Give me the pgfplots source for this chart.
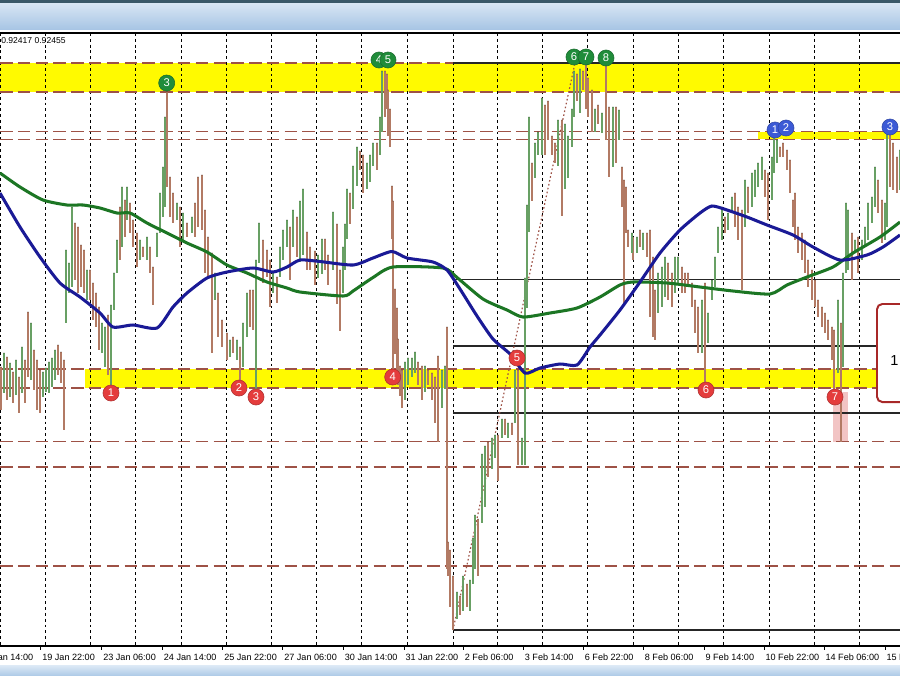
\documentclass[border=0pt]{standalone}
\usepackage{pgfplots}
\usepackage{pgfplotstable}
\pgfplotsset{compat=1.18}
\usepackage{fontspec}
\setmainfont{Liberation Sans}
\definecolor{candU}{RGB}{104,160,100}
\definecolor{candD}{RGB}{178,122,100}
\definecolor{maB}{RGB}{26,26,150}
\definecolor{maG}{RGB}{28,118,36}
\definecolor{lvl}{RGB}{158,82,70}
\definecolor{yel}{RGB}{255,250,0}
\definecolor{pinkz}{RGB}{242,196,196}
\definecolor{cGreen}{RGB}{32,140,58}
\definecolor{cRed}{RGB}{228,60,60}
\definecolor{cBlue}{RGB}{60,90,214}
\definecolor{hdrTop}{RGB}{216,230,244}
\definecolor{hdrBot}{RGB}{166,196,228}
\definecolor{hdrLine}{RGB}{58,88,104}
\definecolor{ftrTop}{RGB}{222,234,246}
\definecolor{ftrBot}{RGB}{176,204,232}
\definecolor{boxRed}{RGB}{168,40,40}

\pgfplotstableread{
x h l
4 353 393
10 363 397
16 360 395
22 347 393
31 323 380
43 372 397
46 368 392
49 362 393
52 358 387
55 350 380
66 250 323
69 263 293
72 207 287
87 270 300
102 323 353
105 327 367
111 305 386
114 273 310
117 240 273
122 187 247
127 187 220
140 240 260
147 237 260
157 233 257
160 193 233
163 167 217
165 117 207
177 203 220
183 213 240
192 217 233
215 273 300
230 340 357
237 340 360
243 323 367
247 293 337
256 260 390
259 223 263
273 273 293
280 247 277
283 230 260
287 220 247
293 210 247
300 201 262
303 189 255
318 255 278
322 239 274
333 212 270
343 247 293
345 224 270
347 189 239
353 166 209
357 147 186
367 163 189
370 155 182
373 143 166
380 117 155
382 71 132
405 362 400
408 358 385
412 358 377
415 352 373
425 366 392
442 370 408
445 366 389
457 592 619
463 576 611
470 580 611
473 538 584
475 515 569
482 454 523
485 446 507
492 438 469
495 435 458
502 419 438
508 423 438
515 370 423
522 438 465
525 278 465
527 205 308
529 117 232
535 143 178
538 132 155
542 98 155
558 120 166
565 124 189
568 136 178
572 109 147
574 71 117
580 69 113
595 109 132
602 113 133
613 107 167
619 110 140
632 233 253
637 237 253
643 233 250
658 273 313
662 267 307
665 257 297
675 257 293
678 257 283
702 300 353
708 313 343
712 280 300
715 257 287
718 227 253
722 207 240
728 213 230
732 197 213
745 180 227
752 173 207
755 170 197
758 163 187
762 157 180
772 157 200
774 136 173
777 140 163
838 300 373
843 273 367
846 203 273
848 210 270
855 240 253
862 240 260
865 227 247
868 203 240
872 197 223
875 167 207
885 203 240
887 130 227
900 150 190
}\upbars

\pgfplotstableread{
x h l
1 367 410
7 357 400
13 372 403
19 377 413
25 360 403
28 312 377
34 350 390
37 360 410
40 370 413
58 345 375
61 352 383
64 360 430
75 223 280
78 227 293
81 245 287
84 250 293
90 270 300
93 283 320
96 293 327
99 307 350
108 315 375
120 207 260
125 200 237
130 203 233
133 220 247
137 233 267
143 247 257
150 247 273
153 267 305
167 92 187
170 177 217
173 193 223
180 207 247
187 223 237
195 203 237
198 177 227
202 175 230
205 210 273
208 237 277
212 253 353
218 293 337
222 320 347
227 333 360
233 337 353
240 347 381
250 290 327
253 290 330
263 240 283
267 250 277
270 260 307
277 277 303
290 227 280
297 217 257
307 232 270
310 247 270
315 251 285
325 239 270
328 255 285
337 224 304
340 270 331
350 193 224
360 151 170
363 155 193
377 143 170
385 71 117
387 74 109
388 90 136
390 109 147
392 186 239
393 201 373
395 289 354
397 308 377
398 339 385
400 366 396
402 370 408
418 362 385
422 366 400
428 370 385
432 373 400
435 377 423
438 356 442
447 327 569
448 542 576
450 550 607
453 576 630
460 596 615
467 584 607
478 519 576
488 442 477
498 435 481
505 419 435
512 423 435
518 370 465
532 163 201
545 105 155
548 101 140
552 136 155
555 143 163
562 120 216
577 74 101
583 71 90
586 63 109
588 78 117
592 90 132
598 105 124
606 63 140
609 107 177
616 107 163
622 167 207
624 180 303
626 187 233
628 230 247
633 237 260
640 230 247
647 233 257
650 230 317
653 257 337
655 290 340
668 263 300
672 273 307
682 267 293
685 273 293
688 273 287
692 283 307
695 300 333
698 307 353
705 283 383
725 217 233
735 193 227
738 207 240
742 210 290
748 187 213
765 170 197
768 173 220
780 147 157
783 143 157
787 150 170
790 160 193
793 200 227
795 193 240
798 227 253
802 233 260
805 240 273
808 260 287
812 270 300
815 280 307
818 300 317
822 307 327
825 313 333
828 320 340
832 327 360
834 330 390
841 323 442
852 233 280
858 237 273
878 180 213
882 200 243
890 130 187
893 143 190
897 157 193
}\downbars

\begin{document}
\begin{tikzpicture}
\useasboundingbox (0,-0.77333cm) rectangle (24cm,17.22667cm);
\clip (0,-0.77333cm) rectangle (24cm,17.22667cm);
\fill[white] (0,-0.77333cm) rectangle (24cm,17.22667cm);
\shade[top color=hdrTop, bottom color=hdrBot] (0,16.42667cm) rectangle (24cm,17.14667cm);
\fill[hdrLine] (0,17.14667cm) rectangle (24cm,17.22667cm);
\shade[top color=ftrTop, bottom color=ftrBot] (0,-0.77333cm) rectangle (24cm,-0.50667cm);
\begin{axis}[
  at={(0,0)}, anchor=south west,
  scale only axis, width=24cm, height=16.34667cm,
  xmin=0, xmax=900, ymin=33, ymax=646, y dir=reverse,
  axis x line*=bottom, axis y line=none,
  x axis line style={-, black, line width=0.8pt},
  ytick=\empty,
  xtick={40.7,101.7,162.3,222.7,282.7,343.3,404,463.3,523.3,583.3,643.3,704,764,824,885},
  xticklabels={19 Jan 22:00,23 Jan 06:00,24 Jan 14:00,25 Jan 22:00,27 Jan 06:00,30 Jan 14:00,31 Jan 22:00,2 Feb 06:00,3 Feb 14:00,6 Feb 22:00,8 Feb 06:00,9 Feb 14:00,10 Feb 22:00,14 Feb 06:00,15 Feb 14:00},
  tick align=outside, major tick length=3pt,
  tick style={black, line width=0.6pt},
  xticklabel style={anchor=north west, inner sep=0pt, font=\fontsize{6.9}{8}\selectfont, xshift=1pt, yshift=-3pt},
  clip mode=individual,
  unbounded coords=jump,
]
% yellow zones
\addplot[fill=yel, draw=none] coordinates {(0,63)(900,63)(900,92)(0,92)};
\addplot[fill=yel, draw=none] coordinates {(85,369)(877,369)(877,388)(85,388)};
\addplot[fill=yel, draw=none] coordinates {(758,131.7)(900,131.7)(900,139.3)(758,139.3)};
\addplot[fill=pinkz, draw=none] coordinates {(833,392)(848,392)(848,442)(833,442)};
% vertical grid
\addplot[black, line width=0.7pt, dash pattern=on 2.2pt off 2.2pt] coordinates {
(0.5,33)(0.5,646)(0.5,nan)(45.7,33)(45.7,646)(45.7,nan)(90.7,33)(90.7,646)(90.7,nan)
(135.7,33)(135.7,646)(135.7,nan)(181,33)(181,646)(181,nan)(226.7,33)(226.7,646)(226.7,nan)
(271.7,33)(271.7,646)(271.7,nan)(316.7,33)(316.7,646)(316.7,nan)(361.7,33)(361.7,646)(361.7,nan)
(407.3,33)(407.3,646)(407.3,nan)(453.3,33)(453.3,646)(453.3,nan)(497.7,33)(497.7,646)(497.7,nan)
(542.7,33)(542.7,646)(542.7,nan)(587.7,33)(587.7,646)(587.7,nan)(633,33)(633,646)(633,nan)
(678.3,33)(678.3,646)(678.3,nan)(723.7,33)(723.7,646)(723.7,nan)(769,33)(769,646)(769,nan)
(814,33)(814,646)(814,nan)(859.3,33)(859.3,646)};
% dashed horizontal levels
\addplot[lvl, line width=1pt, dash pattern=on 9.5pt off 4pt] coordinates {
(0,63)(900,63)(0,nan)(0,92)(900,92)(0,nan)(0,131.7)(900,131.7)(0,nan)(0,139.3)(900,139.3)(0,nan)
(0,369)(900,369)(0,nan)(0,388)(900,388)(0,nan)(0,441.5)(900,441.5)(0,nan)
(0,467)(900,467)(0,nan)(0,566)(900,566)};
% fibonacci levels
\addplot[black!85, line width=0.8pt] coordinates {
(453,63)(900,63)(453,nan)(453,279.5)(900,279.5)(453,nan)(453,346)(900,346)(453,nan)
(453,413)(900,413)(453,nan)(453,630)(900,630)};
\addplot[lvl, line width=0.9pt, dash pattern=on 1.2pt off 1.8pt] coordinates {(453,630)(575,63)};
% candles
\addplot[only marks, mark=*, mark size=0.01pt, mark options={draw=none, fill=none},
  error bars/.cd, y dir=plus, y explicit, error mark=none,
  error bar style={draw=candD, solid, line width=1.7pt}]
  table[x=x, y=h, y error plus expr=\thisrow{l}-\thisrow{h}] {\downbars};
\addplot[only marks, mark=*, mark size=0.01pt, mark options={draw=none, fill=none},
  error bars/.cd, y dir=plus, y explicit, error mark=none,
  error bar style={draw=candU, solid, line width=1.7pt}]
  table[x=x, y=h, y error plus expr=\thisrow{l}-\thisrow{h}] {\upbars};
% moving averages
\addplot[maG, line width=2.3pt, smooth, tension=0.4] coordinates {
(0,173)(20,187)(43,200)(67,205)(83,205)(100,208)(117,213)(130,213)(147,223)(167,233)(187,243)
(207,252)(227,265)(247,273)(267,282)(287,288)(300,292)(343,296)(353,291)(373,277.5)(393,267)
(443,268)(457,277.5)(483,299)(507,310)(523,317)(550,313)(577,308)(600,297)(620,285)(633,282)
(667,283)(700,287)(733,291)(770,294)(787,285)(807,277)(833,267)(853,253)(880,237)(900,222)};
\addplot[maB, line width=2.3pt, smooth, tension=0.4] coordinates {
(0,193)(20,227)(40,257)(60,283)(80,297)(100,313)(113,327)(133,325)(157,328)(173,307)(187,293)
(207,278)(227,272)(253,268)(273,272)(287,267)(300,260)(320,261.5)(353,265)(373,258)(392,251.5)
(407,258)(433,262)(447,270)(460,289)(477,316)(493,339)(510,354)(525,373)(540,368)(560,364)
(577,365)(590,347)(600,335)(620,310)(640,282)(660,253)(680,230)(700,213)(712,206)(727,210)
(747,217)(767,225)(793,235)(813,247)(840,260)(867,255)(883,247)(900,235)};
% numbered markers
\addplot[only marks, mark=*, mark size=6.1pt, mark options={fill=cGreen, draw=cGreen!75!black, line width=0.4pt},
  point meta=explicit symbolic, nodes near coords,
  every node near coord/.append style={anchor=center, text=white, font=\fontsize{8.5}{9}\selectfont, inner sep=0pt}]
  table[meta=t] {
x y t
166.7 83 3
379 60 4
574 57 6
606 58 8
};
\addplot[only marks, mark=*, mark size=6.1pt, mark options={fill=cGreen, draw=cGreen!75!black, line width=0.4pt},
  point meta=explicit symbolic, nodes near coords,
  every node near coord/.append style={anchor=center, text=white, font=\fontsize{8.5}{9}\selectfont, inner sep=0pt}]
  table[meta=t] {
x y t
388 60 5
586 57 7
};
\addplot[only marks, mark=*, mark size=6.1pt, mark options={fill=cRed, draw=cRed!75!black, line width=0.4pt},
  point meta=explicit symbolic, nodes near coords,
  every node near coord/.append style={anchor=center, text=white, font=\fontsize{8.5}{9}\selectfont, inner sep=0pt}]
  table[meta=t] {
x y t
111 393 1
239 388 2
256 397 3
392.7 377 4
517 358 5
706 390 6
835 397 7
};
\addplot[only marks, mark=*, mark size=6.1pt, mark options={fill=cBlue, draw=cBlue!75!black, line width=0.4pt},
  point meta=explicit symbolic, nodes near coords,
  every node near coord/.append style={anchor=center, text=white, font=\fontsize{8.5}{9}\selectfont, inner sep=0pt}]
  table[meta=t] {
x y t
775 130 1
786 128 2
890 127 3
};
% frame, callout and texts
\draw[black, line width=0.8pt] (axis cs:0,33) -- (axis cs:900,33);
\draw[boxRed, line width=1.5pt, fill=white, rounded corners=4pt] (axis cs:877,304) rectangle (axis cs:940,402);
\node[anchor=west, inner sep=0pt, font=\fontsize{11}{12}\selectfont] at (axis cs:890,361) {1};
\node[anchor=west, inner sep=0pt, font=\fontsize{6.5}{7}\selectfont] at (axis cs:1,41) {0.92417 0.92455};
\node[anchor=north west, inner sep=0pt, font=\fontsize{6.9}{8}\selectfont, xshift=1pt, yshift=-6pt] at (axis cs:-21,646) {18 Jan 14:00};
\end{axis}
\end{tikzpicture}
\end{document}
